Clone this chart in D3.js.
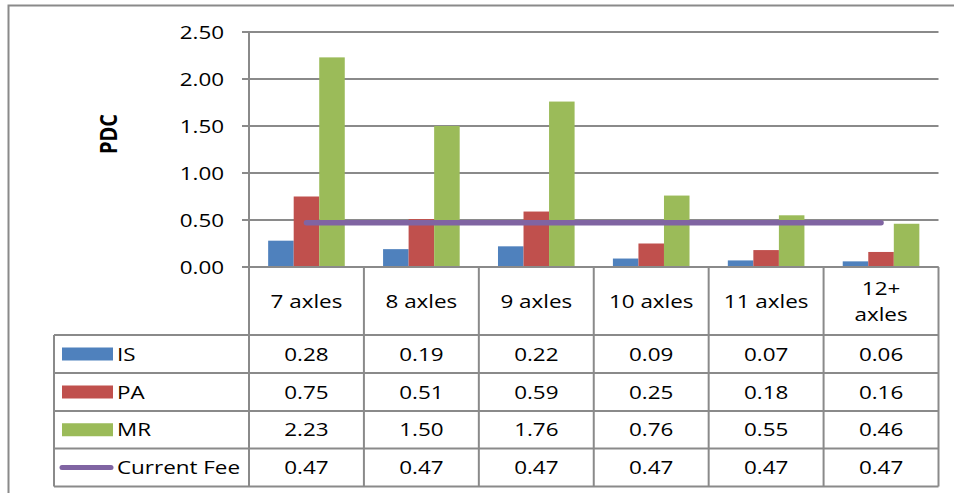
<!DOCTYPE html>
<html><head><meta charset="utf-8">
<script src="https://cdn.jsdelivr.net/npm/d3@7"></script>
<style>
html,body{margin:0;padding:0;background:#fff;}
text{font-family:"Open Sans","Noto Sans",sans-serif;fill:#000;}
</style></head>
<body><svg id="chart" width="954" height="493"></svg>
<script>
const categories = ["7 axles","8 axles","9 axles","10 axles","11 axles","12+ axles"];
const categoryLines = [["7 axles"],["8 axles"],["9 axles"],["10 axles"],["11 axles"],["12+","axles"]];
const seriesNames = ["IS","PA","MR"];
const IS = [0.28,0.19,0.22,0.09,0.07,0.06];
const PA = [0.75,0.51,0.59,0.25,0.18,0.16];
const MR = [2.23,1.50,1.76,0.76,0.55,0.46];
const currentFee = [0.47,0.47,0.47,0.47,0.47,0.47];
const lineName = "Current Fee";
const yTicks = [0,0.5,1.0,1.5,2.0,2.5];
const colors = {IS:"#4F81BD",PA:"#C0504D",MR:"#9BBB59",fee:"#8064A2"};
const seriesVals = {IS, PA, MR};

const svg = d3.select("#chart");
const grid = "#8a8a8a";
const SX = 1.18, FS = 19;
const L = 249, R = 938.5, T = 32, B = 267;
const tableL = 54;
const rowEdges = [267, 335, 373, 411, 448.5, 486.5];

function label(px, py, str, anchor){
  return svg.append("text").attr("transform",`translate(${px},${py}) scale(${SX},1)`)
    .attr("text-anchor",anchor||"middle").attr("dy","0.35em").attr("font-size",FS).text(str);
}

// outer border
svg.append("path").attr("d","M8.5,493 L8.5,5.5 L954,5.5").attr("fill","none").attr("stroke",grid).attr("stroke-width",2);

const x = d3.scaleBand().domain(categories).range([L,R]).paddingInner(0).paddingOuter(0);
const bw = x.bandwidth()/4.5;
const xs = d3.scaleBand().domain(seriesNames).range([bw*0.75, bw*3.75]).padding(0);
const y = d3.scaleLinear().domain([0,2.5]).range([B,T]);

// gridlines
svg.append("g").selectAll("line").data(yTicks).join("line")
  .attr("x1",L-7).attr("x2",R).attr("y1",d=>y(d)).attr("y2",d=>y(d))
  .attr("stroke",grid).attr("stroke-width",2);

// y axis
const yAxis = d3.axisLeft(y).tickValues(yTicks).tickFormat(d3.format(".2f")).tickSize(0).tickPadding(0);
const ga = svg.append("g").attr("transform",`translate(${L},0)`).call(yAxis);
ga.select(".domain").remove();
ga.selectAll("text").attr("font-size",FS).attr("font-family","Open Sans").attr("fill","#000")
  .attr("dy","0.35em").attr("x",0).attr("transform",`translate(-25,0) scale(${SX},1)`);
svg.append("line").attr("x1",L).attr("x2",L).attr("y1",T).attr("y2",B).attr("stroke",grid).attr("stroke-width",2);

// bars
seriesNames.forEach(s=>{
  svg.append("g").selectAll("rect").data(seriesVals[s]).join("rect")
    .attr("x",(d,i)=>x(categories[i])+xs(s))
    .attr("width",xs.bandwidth())
    .attr("y",d=>y(d)).attr("height",d=>y(0)-y(d))
    .attr("fill",colors[s]);
});

// line
const line = d3.line().x((d,i)=>x(categories[i])+x.bandwidth()/2).y(d=>y(d));
svg.append("path").datum(currentFee).attr("d",line).attr("fill","none")
  .attr("stroke",colors.fee).attr("stroke-width",5.5).attr("stroke-linecap","round");

// y title
svg.append("text").attr("transform",`translate(116.5,134) rotate(-90) scale(1,${SX})`).attr("text-anchor","middle")
  .attr("font-size",20).attr("font-weight","bold").text("PDC");

// table grid
const tg = svg.append("g").attr("stroke",grid).attr("stroke-width",2).attr("fill","none");
const colEdges = categories.map(c=>x(c)).concat([R]);
colEdges.forEach(cx=>tg.append("line").attr("x1",cx).attr("x2",cx).attr("y1",B).attr("y2",rowEdges[5]));
tg.append("line").attr("x1",tableL).attr("x2",tableL).attr("y1",rowEdges[1]).attr("y2",rowEdges[5]);
rowEdges.forEach((ry,i)=>tg.append("line").attr("x1",i===0?L:tableL).attr("x2",R).attr("y1",ry).attr("y2",ry));

// header labels
categories.forEach((c,i)=>{
  const lines = categoryLines[i];
  const cy = (rowEdges[0]+rowEdges[1])/2;
  lines.forEach((ln,j)=>{
    label(x(c)+x.bandwidth()/2, cy + (j-(lines.length-1)/2)*26, ln);
  });
});

// rows
const rows = [
  {name:"IS",vals:IS,color:colors.IS,type:"rect"},
  {name:"PA",vals:PA,color:colors.PA,type:"rect"},
  {name:"MR",vals:MR,color:colors.MR,type:"rect"},
  {name:lineName,vals:currentFee,color:colors.fee,type:"line"}
];
const fmt = d3.format(".2f");
rows.forEach((r,ri)=>{
  const cy = (rowEdges[ri+1]+rowEdges[ri+2])/2;
  if(r.type==="rect"){
    svg.append("rect").attr("x",62).attr("y",cy-6.5).attr("width",51).attr("height",13).attr("fill",r.color);
  } else {
    svg.append("line").attr("x1",62).attr("x2",111).attr("y1",cy).attr("y2",cy)
      .attr("stroke",r.color).attr("stroke-width",5).attr("stroke-linecap","round");
  }
  label(117, cy, r.name, "start");
  r.vals.forEach((v,i)=>{
    label(x(categories[i])+x.bandwidth()/2, cy, fmt(v));
  });
});
</script></body></html>
